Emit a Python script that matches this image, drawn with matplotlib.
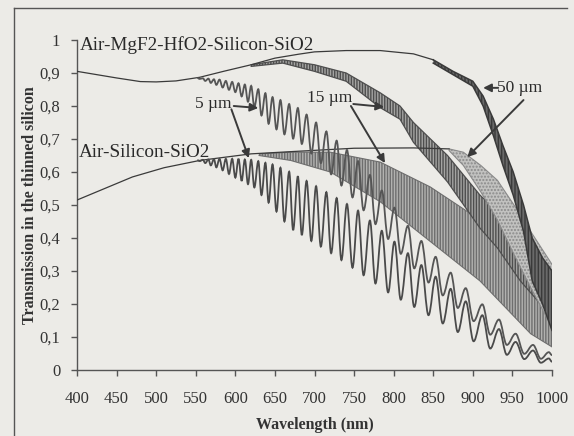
import numpy as np
import matplotlib
matplotlib.use('Agg')
import matplotlib.pyplot as plt
from matplotlib.path import Path
from matplotlib.patches import PathPatch
from matplotlib.lines import Line2D

# ---------------- data ----------------
# smooth (non-oscillating) parts of the two stacks
wl_ar_smooth = [400, 450, 480, 500, 525, 555, 585, 620, 650, 680, 700, 740, 783, 825, 850]
t_ar_smooth = [0.905, 0.885, 0.874, 0.873, 0.876, 0.887, 0.905, 0.925, 0.945, 0.957, 0.964, 0.968, 0.968, 0.958, 0.94]
wl_bare_smooth = [400, 430, 470, 510, 555, 620, 680, 750, 825, 870]
t_bare_smooth = [0.515, 0.545, 0.585, 0.613, 0.635, 0.655, 0.663, 0.672, 0.673, 0.67]

# 5 um fringes: wavelengths of successive maxima / minima
wl_5um = [552, 555, 559, 562, 566, 569, 573, 576, 580, 584, 588, 592, 596, 600, 604, 608,
          612, 616, 620, 624, 629, 633, 638, 642, 647, 652, 657, 662, 668, 673, 679, 684,
          690, 696, 702, 708, 715, 721, 728, 734, 741, 748, 755, 762, 770, 777, 785, 793,
          801, 809, 818, 826, 835, 844, 853, 862, 872, 881, 891, 901, 912, 922, 933, 943,
          954, 965, 976, 986, 996, 1000]
t_ar_5um = [0.885, 0.882, 0.884, 0.876, 0.883, 0.870, 0.881, 0.864, 0.880, 0.856, 0.876, 0.849,
            0.873, 0.842, 0.869, 0.829, 0.865, 0.813, 0.861, 0.797, 0.851, 0.771, 0.839, 0.746,
            0.827, 0.729, 0.818, 0.714, 0.806, 0.701, 0.794, 0.685, 0.774, 0.656, 0.750, 0.627,
            0.723, 0.593, 0.695, 0.559, 0.667, 0.523, 0.633, 0.484, 0.591, 0.442, 0.544, 0.397,
            0.492, 0.352, 0.437, 0.308, 0.391, 0.265, 0.343, 0.226, 0.295, 0.188, 0.248, 0.148,
            0.199, 0.107, 0.153, 0.076, 0.110, 0.049, 0.076, 0.034, 0.054, 0.045]
t_bare_5um = [0.636, 0.633, 0.637, 0.627, 0.638, 0.620, 0.639, 0.614, 0.640, 0.605, 0.640, 0.594,
              0.640, 0.583, 0.640, 0.573, 0.638, 0.563, 0.637, 0.553, 0.633, 0.530, 0.628, 0.507,
              0.623, 0.480, 0.613, 0.450, 0.601, 0.424, 0.587, 0.409, 0.573, 0.391, 0.557, 0.374,
              0.539, 0.354, 0.521, 0.333, 0.503, 0.310, 0.483, 0.287, 0.453, 0.262, 0.422, 0.235,
              0.389, 0.213, 0.354, 0.191, 0.318, 0.166, 0.283, 0.141, 0.246, 0.115, 0.208, 0.087,
              0.166, 0.065, 0.124, 0.046, 0.085, 0.033, 0.059, 0.022, 0.035, 0.025]

# 15 um (dense fringes): upper / lower envelopes
wl_ar_15 = [620, 660, 700, 740, 783, 808, 825, 868, 909, 931, 960, 1000]
hi_ar_15 = [0.925, 0.94, 0.925, 0.90, 0.84, 0.80, 0.75, 0.65, 0.53, 0.48, 0.40, 0.29]
lo_ar_15 = [0.92, 0.93, 0.905, 0.875, 0.795, 0.76, 0.69, 0.57, 0.43, 0.37, 0.27, 0.16]
wl_bare_15 = [630, 670, 720, 783, 846, 909, 973, 1000]
hi_bare_15 = [0.655, 0.66, 0.66, 0.63, 0.555, 0.455, 0.27, 0.17]
lo_bare_15 = [0.65, 0.635, 0.60, 0.51, 0.39, 0.27, 0.11, 0.07]

# 50 um (unresolved fringes): upper / lower envelopes
wl_ar_50 = [850, 875, 900, 913, 926, 938, 951, 964, 975, 988, 1000]
hi_ar_50 = [0.94, 0.905, 0.875, 0.83, 0.76, 0.68, 0.60, 0.50, 0.40, 0.34, 0.30]
lo_ar_50 = [0.93, 0.895, 0.86, 0.80, 0.71, 0.62, 0.53, 0.42, 0.27, 0.20, 0.12]
wl_bare_50 = [870, 888, 910, 931, 952, 973, 1000]
hi_bare_50 = [0.67, 0.66, 0.62, 0.575, 0.50, 0.42, 0.32]
lo_bare_50 = [0.665, 0.62, 0.54, 0.455, 0.35, 0.25, 0.13]

x_ticks = [400, 450, 500, 550, 600, 650, 700, 750, 800, 850, 900, 950, 1000]
y_ticks = [0, 0.1, 0.2, 0.3, 0.4, 0.5, 0.6, 0.7, 0.8, 0.9, 1.0]
y_tick_labels = ['0', '0,1', '0,2', '0,3', '0,4', '0,5', '0,6', '0,7', '0,8', '0,9', '1']

# ---------------- drawing ----------------
BG = '#ecebe7'
INK = '#3a3a3a'
SERIF = ['Liberation Serif', 'DejaVu Serif']
plt.rcParams['font.family'] = SERIF
plt.rcParams['hatch.linewidth'] = 1.0

fig = plt.figure(figsize=(5.74, 4.36), dpi=100, facecolor=BG)
ax = fig.add_axes([77 / 574, 1 - 370 / 436, 475 / 574, 330 / 436])
ax.set_facecolor(BG)


def wave_path(x, y, k=0.36):
    verts = [(x[0], y[0])]
    codes = [Path.MOVETO]
    for i in range(len(x) - 1):
        dx = x[i + 1] - x[i]
        verts += [(x[i] + k * dx, y[i]), (x[i + 1] - k * dx, y[i + 1]), (x[i + 1], y[i + 1])]
        codes += [Path.CURVE4] * 3
    return Path(verts, codes)


# dense bands
ax.fill_between(wl_bare_15, lo_bare_15, hi_bare_15, facecolor='#b2b2b0', edgecolor='#6e6e6e',
                hatch='||||||', linewidth=0, zorder=2)
ax.plot(wl_bare_15, hi_bare_15, color='#6e6e6e', lw=0.8, zorder=2)
ax.plot(wl_bare_15, lo_bare_15, color='#6e6e6e', lw=0.8, zorder=2)

ax.fill_between(wl_ar_15, lo_ar_15, hi_ar_15, facecolor='#a4a4a2', edgecolor='#4e4e4e',
                hatch='||||||', linewidth=0, zorder=2)
ax.plot(wl_ar_15, hi_ar_15, color='#4e4e4e', lw=0.9, zorder=2)
ax.plot(wl_ar_15, lo_ar_15, color='#4e4e4e', lw=0.9, zorder=2)

ax.fill_between(wl_bare_50, lo_bare_50, hi_bare_50, facecolor='#c2c2c0', edgecolor='#8a8a8a',
                hatch='.....', linewidth=0, zorder=3)
ax.plot(wl_bare_50, hi_bare_50, color='#8a8a8a', lw=0.8, zorder=3)
ax.plot(wl_bare_50, lo_bare_50, color='#8a8a8a', lw=0.8, zorder=3)

ax.fill_between(wl_ar_50, lo_ar_50, hi_ar_50, facecolor='#6a6a6a', edgecolor='#3a3a3a',
                hatch='|||||', linewidth=0, zorder=4)
ax.plot(wl_ar_50, hi_ar_50, color='#3a3a3a', lw=1.1, zorder=4)
ax.plot(wl_ar_50, lo_ar_50, color='#3a3a3a', lw=1.1, zorder=4)

# smooth curves
ax.plot(wl_ar_smooth, t_ar_smooth, color=INK, lw=0.9, zorder=5)
ax.plot(wl_bare_smooth, t_bare_smooth, color=INK, lw=0.9, zorder=5)

# 5 um fringes (same fringe positions for both stacks)
ax.add_patch(PathPatch(wave_path(wl_5um, t_bare_5um), fill=False, edgecolor='#4a4a4a',
                       lw=1.3, zorder=6))
ax.add_patch(PathPatch(wave_path(wl_5um, t_ar_5um), fill=False, edgecolor='#555555',
                       lw=1.3, zorder=6))

# axes styling
ax.set_xlim(400, 1000)
ax.set_ylim(0, 1)
for s in ['top', 'right']:
    ax.spines[s].set_visible(False)
for s in ['left', 'bottom']:
    ax.spines[s].set_color('#555555')
    ax.spines[s].set_linewidth(1.0)
ax.set_xticks(x_ticks)
ax.set_xticklabels([str(v) for v in x_ticks])
ax.set_yticks(y_ticks)
ax.set_yticklabels(y_tick_labels)
ax.tick_params(axis='both', direction='out', length=4, width=1.0, color='#555555',
               labelsize=12, labelcolor='#333333')
ax.tick_params(axis='x', pad=11)
ax.tick_params(axis='y', pad=8)

ax.set_xlabel('Wavelength (nm)', fontsize=11.5, fontweight='bold', color='#333333', labelpad=7)
ax.set_ylabel('Transmission in the thinned silicon', fontsize=11.5, fontweight='bold',
              color='#333333', labelpad=1)

# stack labels
ax.text(404, 0.985, 'Air-MgF2-HfO2-Silicon-SiO2', fontsize=13.8, color='#2a2a2a',
        va='center', ha='left', zorder=8)
ax.text(402, 0.66, 'Air-Silicon-SiO2', fontsize=13.8, color='#2a2a2a',
        va='center', ha='left', zorder=8)

arrow = dict(arrowstyle='-|>', color='#3a3a3a', lw=1.4, mutation_scale=12, shrinkA=0, shrinkB=0)

ax.text(549, 0.806, '5 µm', fontsize=12.5, color='#2a2a2a', va='center', ha='left', zorder=8)
ax.annotate('', xy=(629, 0.794), xytext=(598, 0.80), arrowprops=arrow, zorder=9)
ax.annotate('', xy=(617, 0.642), xytext=(595, 0.79), arrowprops=arrow, zorder=9)

ax.text(691, 0.824, '15 µm', fontsize=12.5, color='#2a2a2a', va='center', ha='left', zorder=8)
ax.annotate('', xy=(788, 0.797), xytext=(749, 0.806), arrowprops=arrow, zorder=9)
ax.annotate('', xy=(789, 0.627), xytext=(746, 0.80), arrowprops=arrow, zorder=9)

ax.text(931, 0.855, '50 µm', fontsize=12.5, color='#2a2a2a', va='center', ha='left', zorder=8)
ax.annotate('', xy=(913, 0.855), xytext=(932, 0.855), arrowprops=arrow, zorder=9)
ax.annotate('', xy=(893, 0.645), xytext=(964, 0.818), arrowprops=arrow, zorder=9)

# chart-area frame (left and top edges visible in the scan)
fig.add_artist(Line2D([14 / 574, 14 / 574], [0, 1 - 8 / 436], transform=fig.transFigure,
                      color='#555555', lw=1.0))
fig.add_artist(Line2D([14 / 574, 567 / 574], [1 - 8 / 436, 1 - 8 / 436],
                      transform=fig.transFigure, color='#555555', lw=1.0))

fig.savefig('out.png', dpi=100, facecolor=BG)
